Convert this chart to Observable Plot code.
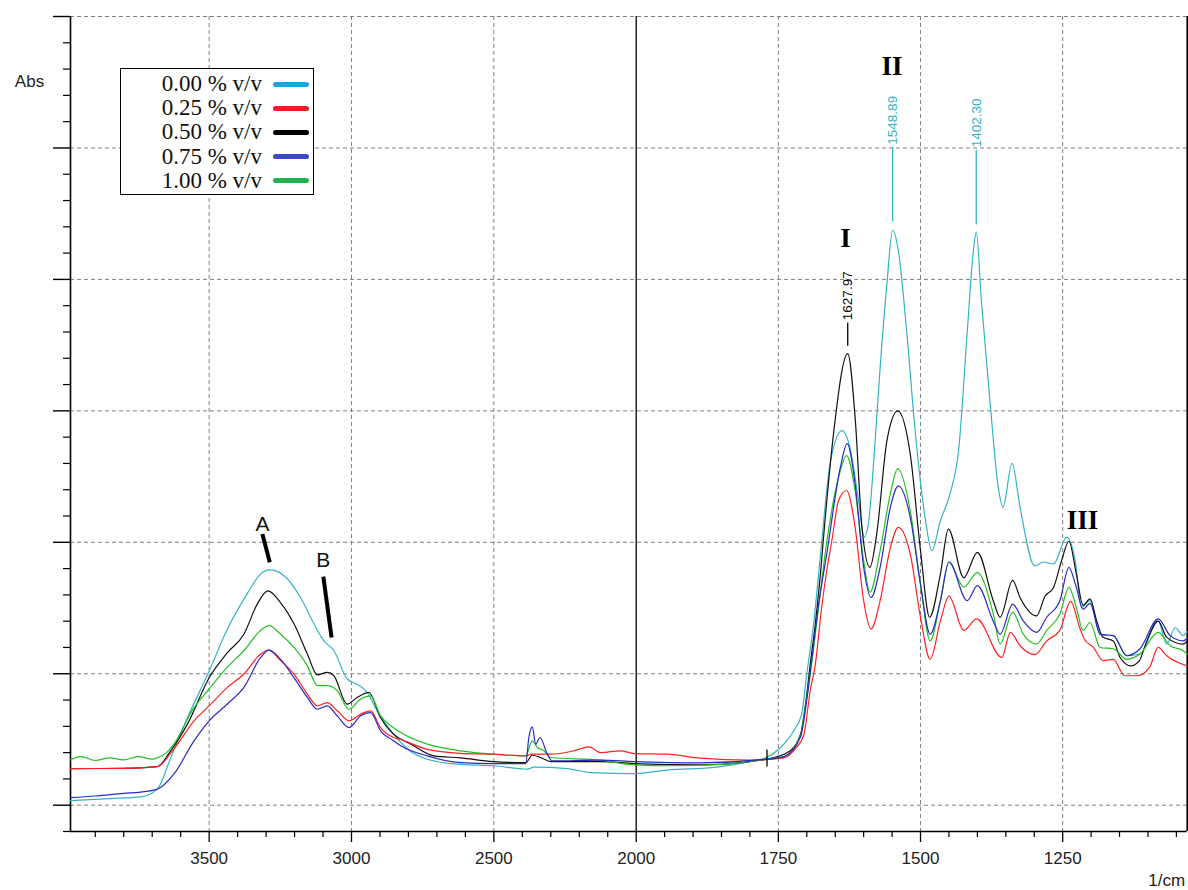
<!DOCTYPE html>
<html>
<head>
<meta charset="utf-8">
<script src="https://cdn.jsdelivr.net/npm/d3@7"></script>
<script src="https://cdn.jsdelivr.net/npm/@observablehq/plot@0.6"></script>
<style>
  body { margin: 0; background: #fff; }
  #wrap { position: relative; width: 1188px; height: 890px; }
  #legend { position: absolute; left: 120px; top: 68px; width: 192px; height: 125px;
    border: 1.5px solid #000; background: #fff;
    font-family: "Liberation Serif", "Times New Roman", serif; font-size: 23px; color: #111; }
  .lab { position: absolute; right: 51px; height: 24px; line-height: 24px; white-space: nowrap; }
  .sw { position: absolute; left: 152px; width: 36px; height: 5px; border-radius: 3px; }
</style>
</head>
<body>
<div id="wrap"><div id="chart"></div><div id="legend"></div></div>
<script>
// ---- data: [wavenumber (1/cm), absorbance] ----
const cyan00 = [[3987,0.0035],[3850,0.005],[3740,0.0063],[3682,0.0122],[3635,0.036],[3576,0.0667],[3500,0.102],[3436,0.134],[3366,0.161],[3319,0.176],[3287,0.179],[3237,0.1746],[3179,0.158],[3132,0.138],[3097,0.125],[3062,0.1177],[3015,0.096],[2980,0.092],[2945,0.0858],[2910,0.0718],[2852,0.054],[2793,0.041],[2734,0.035],[2617,0.031],[2502,0.030],[2382,0.0274],[2359,0.029],[2242,0.0279],[2160,0.0248],[2008,0.024],[1945,0.0267],[1858,0.029],[1800,0.0332],[1771,0.0363],[1746,0.0439],[1723,0.0566],[1709,0.0693],[1700,0.0998],[1688,0.138],[1676,0.19],[1659,0.26],[1638,0.285],[1623,0.27],[1609,0.232],[1599,0.204],[1591,0.2165],[1583,0.257],[1571,0.333],[1559,0.397],[1549,0.4374],[1539,0.422],[1524,0.359],[1509,0.2826],[1492,0.219],[1480,0.1937],[1465,0.2165],[1448,0.237],[1433,0.27],[1418,0.359],[1407,0.422],[1402,0.436],[1393,0.384],[1378,0.308],[1363,0.241],[1355,0.2267],[1339,0.26],[1325,0.2267],[1299,0.182],[1284,0.185],[1266,0.1835],[1243,0.204],[1228,0.186],[1217,0.1505],[1202,0.1556],[1184,0.130],[1161,0.129],[1137,0.1137],[1114,0.115],[1082,0.140],[1067,0.1226],[1052,0.135],[1038,0.129],[1031,0.132]];
const red025 = [[3987,0.0279],[3800,0.028],[3682,0.0294],[3624,0.0427],[3553,0.0642],[3500,0.0756],[3436,0.0896],[3378,0.0998],[3319,0.115],[3290,0.118],[3249,0.110],[3202,0.0998],[3155,0.0845],[3120,0.0756],[3085,0.078],[3050,0.0718],[3009,0.0642],[2968,0.0693],[2933,0.0718],[2898,0.059],[2852,0.0515],[2827,0.050],[2734,0.0425],[2617,0.0395],[2502,0.0388],[2388,0.0375],[2365,0.0388],[2300,0.0388],[2219,0.0414],[2166,0.0444],[2125,0.040],[2055,0.0414],[2008,0.0393],[1945,0.0388],[1887,0.0358],[1800,0.0343],[1741,0.036],[1720,0.043],[1705,0.054],[1694,0.087],[1685,0.107],[1674,0.150],[1664,0.181],[1656,0.201],[1644,0.232],[1630,0.2394],[1615,0.2114],[1600,0.1556],[1587,0.134],[1571,0.1556],[1553,0.196],[1539,0.2114],[1518,0.191],[1500,0.143],[1483,0.111],[1465,0.140],[1450,0.159],[1424,0.133],[1401,0.1417],[1357,0.1124],[1342,0.1315],[1325,0.1213],[1299,0.1145],[1278,0.125],[1255,0.133],[1236,0.155],[1220,0.135],[1212,0.1264],[1196,0.120],[1179,0.110],[1161,0.111],[1141,0.0985],[1118,0.0985],[1097,0.105],[1082,0.120],[1067,0.1137],[1038,0.107],[1031,0.106]];
const black050 = [[3987,0.0279],[3800,0.028],[3682,0.0294],[3635,0.0414],[3576,0.0617],[3500,0.097],[3436,0.116],[3378,0.130],[3331,0.153],[3294,0.163],[3249,0.154],[3202,0.138],[3155,0.115],[3120,0.0992],[3085,0.101],[3062,0.0985],[3015,0.0769],[2980,0.082],[2939,0.0858],[2898,0.0667],[2852,0.054],[2827,0.0503],[2793,0.0465],[2710,0.0375],[2617,0.036],[2502,0.0332],[2388,0.0324],[2365,0.038],[2336,0.0363],[2300,0.0332],[2125,0.0332],[2008,0.0317],[1887,0.0307],[1770,0.035],[1729,0.0414],[1711,0.054],[1700,0.0845],[1694,0.107],[1685,0.138],[1676,0.176],[1670,0.2064],[1653,0.2826],[1628,0.3435],[1615,0.295],[1603,0.2114],[1589,0.181],[1577,0.2064],[1559,0.2775],[1540,0.300],[1518,0.267],[1500,0.1937],[1484,0.143],[1465,0.176],[1451,0.210],[1424,0.173],[1400,0.1924],[1372,0.1556],[1360,0.143],[1338,0.171],[1325,0.158],[1296,0.144],[1281,0.159],[1266,0.1657],[1252,0.186],[1239,0.2008],[1226,0.176],[1214,0.152],[1202,0.157],[1190,0.140],[1179,0.1277],[1161,0.125],[1149,0.1124],[1130,0.106],[1115,0.110],[1102,0.125],[1082,0.140],[1067,0.1277],[1038,0.1226],[1031,0.125]];
const blue075 = [[3987,0.0058],[3900,0.007],[3800,0.009],[3740,0.010],[3682,0.0122],[3624,0.0236],[3553,0.049],[3500,0.0642],[3436,0.077],[3378,0.0896],[3319,0.1124],[3290,0.118],[3249,0.111],[3202,0.097],[3155,0.082],[3120,0.073],[3085,0.0756],[3050,0.068],[3009,0.059],[2968,0.068],[2933,0.0705],[2898,0.0566],[2852,0.049],[2827,0.0452],[2734,0.0375],[2617,0.0324],[2502,0.0317],[2388,0.0317],[2377,0.0515],[2365,0.0596],[2353,0.0465],[2338,0.0515],[2312,0.0388],[2295,0.0337],[2125,0.0343],[2008,0.0332],[1887,0.0322],[1771,0.035],[1740,0.037],[1711,0.052],[1700,0.080],[1690,0.115],[1680,0.150],[1664,0.1937],[1641,0.257],[1629,0.275],[1615,0.2445],[1600,0.181],[1587,0.158],[1571,0.181],[1553,0.2267],[1539,0.243],[1518,0.219],[1500,0.168],[1483,0.130],[1465,0.1556],[1450,0.185],[1418,0.1556],[1400,0.167],[1372,0.140],[1360,0.130],[1338,0.153],[1319,0.140],[1296,0.1315],[1278,0.143],[1255,0.1556],[1239,0.181],[1226,0.1657],[1214,0.149],[1202,0.1535],[1184,0.130],[1161,0.129],[1137,0.1137],[1114,0.119],[1082,0.1417],[1061,0.129],[1038,0.125],[1031,0.127]];
const green100 = [[3987,0.0345],[3950,0.037],[3900,0.034],[3850,0.036],[3800,0.0345],[3750,0.037],[3700,0.035],[3682,0.036],[3650,0.040],[3624,0.0465],[3553,0.0743],[3500,0.0884],[3436,0.105],[3378,0.1175],[3319,0.133],[3290,0.1366],[3249,0.130],[3202,0.120],[3155,0.106],[3120,0.091],[3085,0.091],[3050,0.087],[3009,0.073],[2968,0.0807],[2933,0.0832],[2898,0.068],[2852,0.059],[2827,0.0553],[2734,0.0465],[2617,0.0414],[2502,0.0388],[2388,0.0375],[2365,0.049],[2347,0.0439],[2324,0.0414],[2300,0.0363],[2125,0.0343],[2008,0.0307],[1945,0.030],[1829,0.0317],[1771,0.035],[1740,0.037],[1711,0.053],[1700,0.082],[1690,0.113],[1680,0.148],[1667,0.1937],[1644,0.2495],[1630,0.266],[1615,0.2394],[1600,0.186],[1589,0.162],[1571,0.1937],[1553,0.237],[1540,0.256],[1518,0.224],[1500,0.168],[1483,0.125],[1465,0.1556],[1450,0.185],[1424,0.166],[1400,0.177],[1372,0.1455],[1360,0.1226],[1338,0.1467],[1319,0.130],[1296,0.1226],[1278,0.133],[1255,0.1455],[1239,0.1657],[1226,0.1505],[1214,0.133],[1202,0.139],[1184,0.120],[1161,0.119],[1137,0.111],[1114,0.115],[1082,0.1315],[1061,0.1213],[1038,0.1175],[1031,0.115]];

const seriesNames = ["0.00 % v/v", "0.25 % v/v", "0.50 % v/v", "0.75 % v/v", "1.00 % v/v"];
const lineColors  = ["#33b4c6", "#ff2222", "#111111", "#2a2ac4", "#22c022"];
const legendColors = ["#1aa3e2", "#ed1c24", "#000000", "#3f48cc", "#22b14c"];

// axis (broken x scale: 4000-2000 and 2000-1031 with different spacing)
const xDomain = [3987, 2000, 1031];
const xMajorTicks = [3500, 3000, 2500, 2000, 1750, 1500, 1250];
const xMinorTicks = [3900,3800,3700,3600,3400,3300,3200,3100,2900,2800,2700,2600,2400,2300,2200,2100,1950,1900,1850,1800,1700,1650,1600,1550,1450,1400,1350,1300,1200,1150,1100,1050];
const xGridTicks = [3500, 3000, 2500, 1750, 1500, 1250];
const yDomain = [-0.02, 0.6];
const yMajorTicks = [0, 0.1, 0.2, 0.3, 0.4, 0.5, 0.6];
const yMinorTicks = [-0.02,0.02,0.04,0.06,0.08,0.12,0.14,0.16,0.18,0.22,0.24,0.26,0.28,0.32,0.34,0.36,0.38,0.42,0.44,0.46,0.48,0.52,0.54,0.56,0.58];

// annotations
const romanLabels = [{t: "I", wn: 1632, a: 0.431}, {t: "II", wn: 1550, a: 0.5623}, {t: "III", wn: 1215, a: 0.2165}];
const letterLabels = [{t: "A", wn: 3313, a: 0.214}, {t: "B", wn: 3099, a: 0.186}];
const letterLinks = [{wn1: 3313, a1: 0.2064, wn2: 3287, a2: 0.1848}, {wn1: 3099, a1: 0.1739, wn2: 3070, a2: 0.1276}];
const peakLabels = [{t: "1627.97", wn: 1628, a: 0.369, c: "#000"}, {t: "1548.89", wn: 1549, a: 0.5025, c: "#33b4c6"}, {t: "1402.30", wn: 1402, a: 0.5005, c: "#33b4c6"}];
const peakRules = [{wn: 1628, a1: 0.3492, a2: 0.3667, c: "#000"}, {wn: 1549, a1: 0.4436, a2: 0.5006, c: "#33b4c6"}, {wn: 1402, a1: 0.4413, a2: 0.4983, c: "#33b4c6"}];
const cursorMark = [{wn: 1770, a1: 0.029, a2: 0.042}];

const series = [cyan00, red025, black050, blue075, green100];
const drawOrder = [0, 2, 4, 1, 3];

const gridStyle = {stroke: "#808080", strokeOpacity: 1, strokeDasharray: "4,3", strokeWidth: 1};

const chart = Plot.plot({
  width: 1188, height: 890,
  marginTop: 16, marginBottom: 59, marginLeft: 70, marginRight: 1.3,
  x: {type: "linear", domain: xDomain, range: [70, 635.7, 1186.7]},
  y: {domain: yDomain},
  style: {fontFamily: "'Liberation Sans', Arial, sans-serif", background: "#fff", color: "#222", overflow: "visible"},
  marks: [
    Plot.gridY(yMajorTicks, gridStyle),
    Plot.gridX(xGridTicks, gridStyle),
    Plot.ruleX([xDomain[1]], {stroke: "#000", strokeWidth: 1.3}),
    Plot.ruleX([xDomain[0], xDomain[2]], {stroke: "#000", strokeWidth: 1.6}),
    Plot.ruleY([yDomain[0]], {stroke: "#000", strokeWidth: 1.6}),
    Plot.axisY(yMajorTicks, {anchor: "left", tickSize: 17, tickFormat: () => "", label: null, stroke: "#000", strokeWidth: 1.4}),
    Plot.axisY(yMinorTicks, {anchor: "left", tickSize: 7, tickFormat: () => "", label: null, stroke: "#000", strokeWidth: 1.2}),
    Plot.axisX(xMajorTicks, {anchor: "bottom", tickSize: 11, tickPadding: 9, tickFormat: d => String(d), label: null, fontSize: 17, stroke: "#000", strokeWidth: 1.3}),
    Plot.axisX(xMinorTicks, {anchor: "bottom", tickSize: 6, tickFormat: () => "", label: null, stroke: "#000", strokeWidth: 1.2}),
    ...drawOrder.map(i => Plot.line(series[i], {x: d => d[0], y: d => d[1], stroke: lineColors[i], strokeWidth: 1.2, curve: "monotone-x"})),
    Plot.ruleX(cursorMark, {x: "wn", y1: "a1", y2: "a2", stroke: "#000", strokeWidth: 1.3}),
    Plot.ruleX(peakRules, {x: "wn", y1: "a1", y2: "a2", stroke: d => d.c, strokeWidth: 1.3}),
    Plot.text(peakLabels, {x: "wn", y: "a", text: "t", fill: d => d.c, rotate: -90, textAnchor: "start", fontSize: 13.5}),
    Plot.text(romanLabels, {x: "wn", y: "a", text: "t", fontSize: 27, fontWeight: "bold", fontFamily: "'Liberation Serif', 'Times New Roman', serif", fill: "#000"}),
    Plot.link(letterLinks, {x1: "wn1", y1: "a1", x2: "wn2", y2: "a2", stroke: "#000", strokeWidth: 4}),
    Plot.text(letterLabels, {x: "wn", y: "a", text: "t", fontSize: 21, fill: "#111"}),
    Plot.text(["Abs"], {text: d => d, frameAnchor: "top-left", dx: -41, dy: 65, textAnchor: "middle", lineAnchor: "middle", fontSize: 17, fill: "#222"}),
    Plot.text(["1/cm"], {text: d => d, frameAnchor: "bottom-right", dx: -2, dy: 49, textAnchor: "end", lineAnchor: "middle", fontSize: 17, fill: "#222"})
  ]
});
document.getElementById("chart").appendChild(chart);

// legend (inside the plot area, top-left)
const legend = document.getElementById("legend");
seriesNames.forEach((name, i) => {
  const cy = 15 + i * 24.2;
  const lab = document.createElement("div");
  lab.className = "lab"; lab.textContent = name; lab.style.top = (cy - 12) + "px";
  const sw = document.createElement("div");
  sw.className = "sw"; sw.style.background = legendColors[i]; sw.style.top = (cy - 2.5) + "px";
  legend.appendChild(lab); legend.appendChild(sw);
});
</script>
</body>
</html>
